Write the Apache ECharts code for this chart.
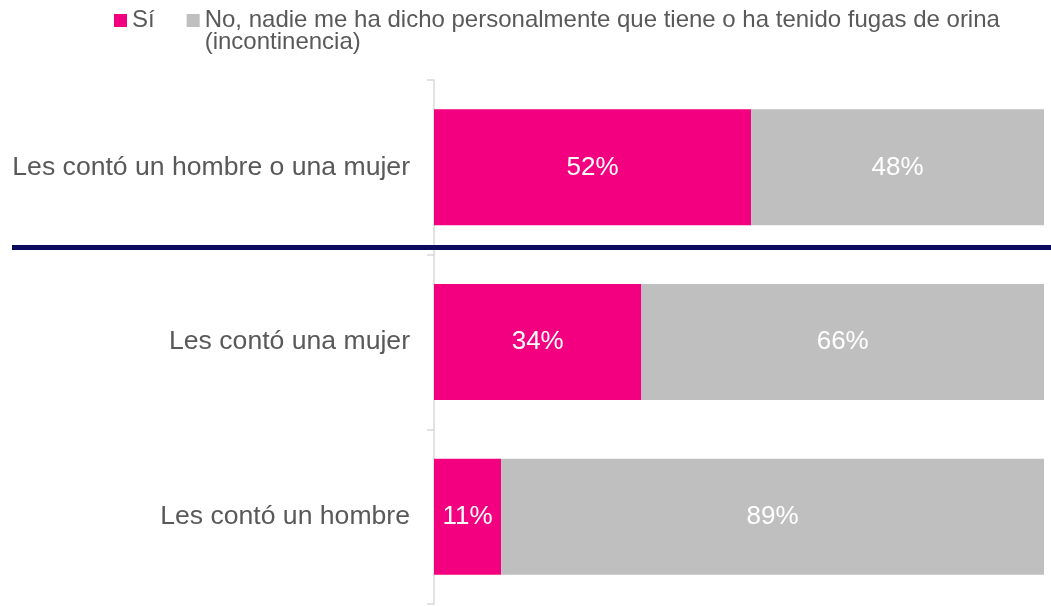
<!DOCTYPE html>
<html>
<head>
<meta charset="utf-8">
<script src="https://cdn.jsdelivr.net/npm/echarts@6/dist/echarts.min.js"></script>
<style>
  html, body { margin: 0; padding: 0; background: #ffffff; }
  #chart { width: 1051px; height: 606px; }
</style>
</head>
<body>
<div id="chart"></div>
<script>
// Who told them — share of respondents told they have (had) urine leakage
const categories = [
  'Les contó un hombre o una mujer',
  'Les contó una mujer',
  'Les contó un hombre'
];
const seriesNames = [
  'Sí',
  'No, nadie me ha dicho personalmente que tiene o ha tenido fugas de orina (incontinencia)'
];
const siValues = [52, 34, 11];
const noValues = [48, 66, 89];

const FONT = '"Liberation Sans", Arial, sans-serif';
const TEXT_GREY = '#595959';

const chart = echarts.init(document.getElementById('chart'));

function barSeries(name, data, color) {
  return {
    name: name,
    type: 'bar',
    stack: 'total',
    barWidth: 116,
    data: data,
    itemStyle: { color: color },
    label: {
      show: true,
      position: 'inside',
      formatter: '{c}%',
      color: '#ffffff',
      fontSize: 26,
      fontFamily: FONT
    },
    emphasis: { disabled: true }
  };
}

chart.setOption({
  animation: false,
  legend: {
    top: -18.5,
    left: 109,
    itemWidth: 13,
    itemHeight: 13,
    itemGap: 32,
    icon: 'rect',
    selectedMode: false,
    // a leading empty line keeps the wrapped item's first line level with its marker
    formatter: function (name) {
      return name === seriesNames[1] ? '\n' + name : name;
    },
    textStyle: { color: TEXT_GREY, fontSize: 24, fontFamily: FONT },
    data: [
      { name: seriesNames[0] },
      {
        name: seriesNames[1],
        textStyle: {
          width: 805,
          overflow: 'break',
          lineHeight: 22
        }
      }
    ]
  },
  grid: { left: 434, right: 7, top: 80, bottom: 2, containLabel: false },
  xAxis: {
    type: 'value',
    min: 0,
    max: 100,
    show: false
  },
  yAxis: {
    type: 'category',
    inverse: true,
    data: categories,
    axisLine: { show: true, lineStyle: { color: '#d9d9d9', width: 1.5 } },
    axisTick: { show: true, length: 7, lineStyle: { color: '#d9d9d9', width: 1.5 } },
    axisLabel: { color: TEXT_GREY, fontSize: 26.6, fontFamily: FONT, margin: 24 }
  },
  series: [
    barSeries(seriesNames[0], siValues, '#f2007f'),
    barSeries(seriesNames[1], noValues, '#bfbfbf')
  ],
  graphic: [
    {
      // divider separating the combined group from the single groups
      type: 'rect',
      z: 100,
      shape: { x: 12, y: 245, width: 1039, height: 5 },
      style: { fill: '#0a0a5e' }
    }
  ]
});
</script>
</body>
</html>
